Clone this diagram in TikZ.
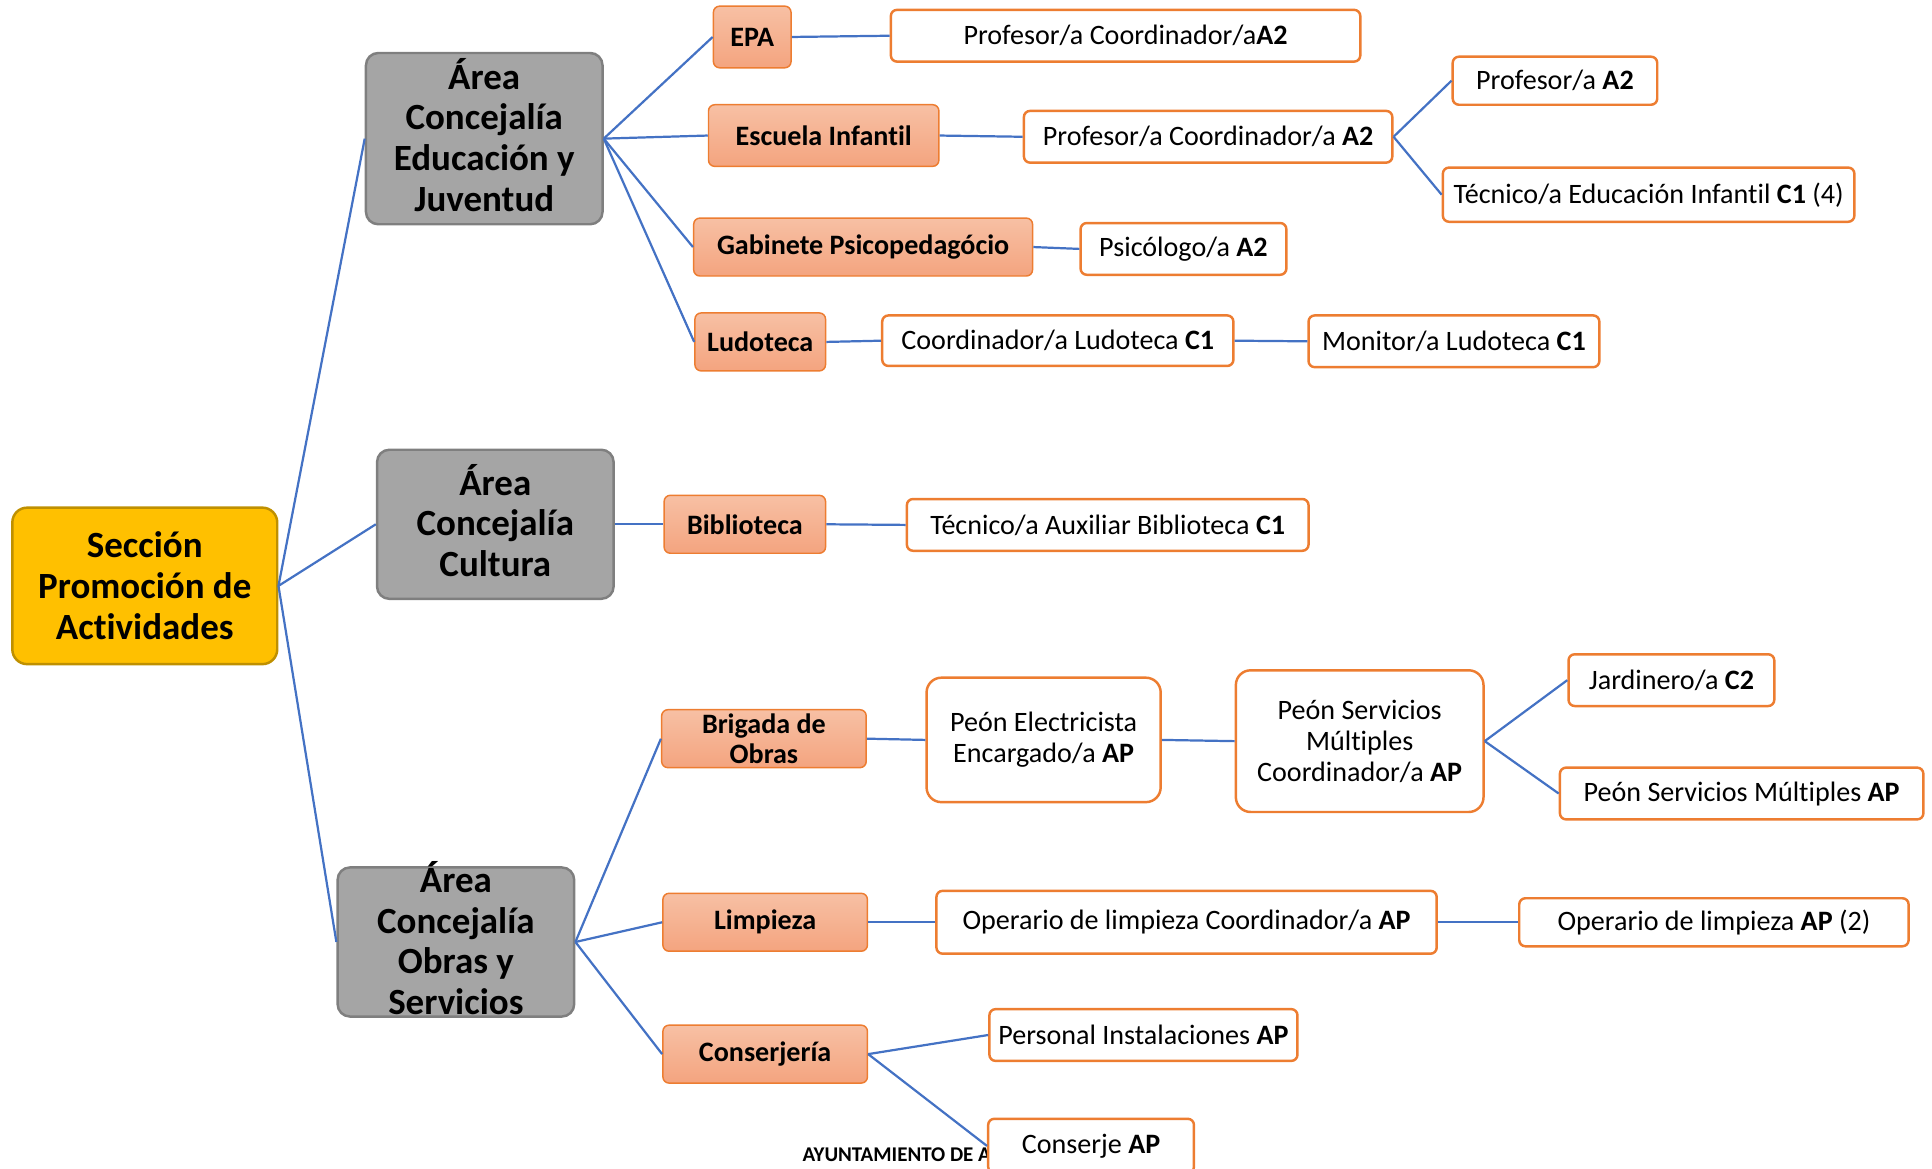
\documentclass[tikz,border=0pt]{standalone}
\usepackage{fontspec}
\setmainfont{Carlito}[Ligatures=CommonOff]
\definecolor{connc}{HTML}{4472C4}
\definecolor{orng}{HTML}{ED7D31}
\definecolor{otop}{HTML}{F7C0A4}
\definecolor{obot}{HTML}{F4A47F}
\definecolor{gfill}{HTML}{A5A5A5}
\definecolor{gline}{HTML}{7F7F7F}
\definecolor{goldf}{HTML}{FFC000}
\definecolor{goldl}{HTML}{BF9000}
\begin{document}
\begin{tikzpicture}[x=0.5pt,y=-0.5pt,
  rootbox/.style={draw=goldl, line width=1pt, fill=goldf, rounded corners=6pt, inner sep=0pt, align=center, font=\fontsize{15}{16.7}\selectfont\bfseries},
  areabox/.style={draw=gline, line width=1pt, fill=gfill, rounded corners=5pt, inner sep=0pt},
  bigtxt/.style={align=center, inner sep=0pt, yshift=1.6pt, font=\fontsize{15}{16.5}\selectfont\bfseries},
  unitbox/.style={draw=orng, line width=0.6pt, rounded corners=2.5pt, top color=otop, bottom color=obot, inner sep=0pt, align=center, font=\fontsize{11.4}{12.5}\selectfont\bfseries},
  unittxt/.style={align=center, inner sep=0pt, font=\fontsize{11.4}{12.5}\selectfont\bfseries},
  postbox/.style={draw=orng, line width=1pt, rounded corners=2.5pt, fill=white, inner sep=0pt, align=center, font=\fontsize{11.4}{12.5}\selectfont},
  tallbox/.style={postbox, rounded corners=6pt},
  cn/.style={draw=connc, line width=0.9pt}
]
\useasboundingbox (0,0) rectangle (1568,948);

% root
\node[rootbox, minimum width=107.5pt, minimum height=63.5pt] (root) at (117.5,475.5) {Sección\\Promoción de\\Actividades};

% areas
\node[areabox, minimum width=96pt, minimum height=69.5pt, label={[bigtxt,name=edutxt]center:Área\\Concejalía\\Educación y\\Juventud}] (edu) at (393,112.5) {};
\node[areabox, minimum width=96pt, minimum height=60.5pt, label={[bigtxt,name=cultxt]center:Área\\Concejalía\\Cultura}] (cul) at (402,425.5) {};
\node[areabox, minimum width=96pt, minimum height=60.5pt, label={[bigtxt,name=obrtxt]center:Área\\Concejalía\\Obras y\\Servicios}] (obr) at (370,764.5) {};

% units
\node[unitbox, minimum width=31.5pt, minimum height=25pt] (epa) at (610.5,30) {EPA};
\node[unitbox, minimum width=93.5pt, minimum height=25pt] (esc) at (668.5,110) {Escuela Infantil};
\node[unitbox, minimum width=137.5pt, minimum height=23.5pt] (gab) at (700.5,200.5) {Gabinete Psicopedagócio};
\node[unitbox, minimum width=53pt, minimum height=23.5pt] (lud) at (617,277.5) {Ludoteca};
\node[unitbox, minimum width=65.5pt, minimum height=23.5pt] (bib) at (604.5,425.5) {Biblioteca};
\node[unitbox, minimum width=83pt, minimum height=23.5pt, label={[unittxt,name=britxt]center:Brigada de\\Obras}] (bri) at (620,599.5) {};
\node[unitbox, minimum width=83pt, minimum height=23.5pt] (lim) at (621,748.5) {Limpieza};
\node[unitbox, minimum width=83pt, minimum height=23.5pt] (con) at (621,855.5) {Conserjería};

% posts
\node[postbox, minimum width=190.5pt, minimum height=21pt] (epaC) at (913.5,29) {Profesor/a Coordinador/a\textbf{A2}};
\node[postbox, minimum width=149.5pt, minimum height=21pt] (escC) at (980.5,111) {Profesor/a Coordinador/a \textbf{A2}};
\node[postbox, minimum width=83pt, minimum height=19.5pt] (prof) at (1262,65.5) {Profesor/a \textbf{A2}};
\node[postbox, minimum width=167pt, minimum height=22pt] (tec) at (1338,158) {Técnico/a Educación Infantil \textbf{C1} (4)};
\node[postbox, minimum width=83.5pt, minimum height=21pt] (psi) at (960.5,202) {Psicólogo/a \textbf{A2}};
\node[postbox, minimum width=142.5pt, minimum height=20.5pt] (coo) at (858.5,276.5) {Coordinador/a Ludoteca \textbf{C1}};
\node[postbox, minimum width=118pt, minimum height=21pt] (mon) at (1180,277) {Monitor/a Ludoteca \textbf{C1}};
\node[postbox, minimum width=163pt, minimum height=21pt] (bibC) at (899,426) {Técnico/a Auxiliar Biblioteca \textbf{C1}};
\node[tallbox, minimum width=95pt, minimum height=50.5pt] (pel) at (847,600.5) {Peón Electricista\\Encargado/a \textbf{AP}};
\node[tallbox, minimum width=100.5pt, minimum height=57.5pt] (psm) at (1103.5,601.5) {Peón Servicios\\Múltiples\\Coordinador/a \textbf{AP}};
\node[postbox, minimum width=83.5pt, minimum height=21pt] (jar) at (1356.5,552) {Jardinero/a \textbf{C2}};
\node[postbox, minimum width=147.5pt, minimum height=21pt] (psa) at (1413.5,644) {Peón Servicios Múltiples \textbf{AP}};
\node[postbox, minimum width=203pt, minimum height=25.5pt] (ope) at (963,748.5) {Operario de limpieza Coordinador/a \textbf{AP}};
\node[postbox, minimum width=158pt, minimum height=19.5pt] (opa) at (1391,748.5) {Operario de limpieza \textbf{AP} (2)};
\node[postbox, minimum width=125pt, minimum height=21pt] (per) at (928,840) {Personal Instalaciones \textbf{AP}};

% footer text (partly hidden)
\node[anchor=west, inner sep=0pt, font=\fontsize{8.5}{10}\selectfont\bfseries] (ayto) at (651,937) {AYUNTAMIENTO DE A};
\node[postbox, minimum width=83.5pt, minimum height=22pt] (cnj) at (885.5,930) {Conserje \textbf{AP}};

% connectors
\draw[cn] (root.east) -- (edu.west);
\draw[cn] (root.east) -- (cul.west);
\draw[cn] (root.east) -- (obr.west);
\draw[cn] (edu.east) -- (epa.west);
\draw[cn] (edu.east) -- (esc.west);
\draw[cn] (edu.east) -- (gab.west);
\draw[cn] (edu.east) -- (lud.west);
\draw[cn] (epa.east) -- (epaC.west);
\draw[cn] (esc.east) -- (escC.west);
\draw[cn] (escC.east) -- (prof.west);
\draw[cn] (escC.east) -- (tec.west);
\draw[cn] (gab.east) -- (psi.west);
\draw[cn] (lud.east) -- (coo.west);
\draw[cn] (coo.east) -- (mon.west);
\draw[cn] (cul.east) -- (bib.west);
\draw[cn] (bib.east) -- (bibC.west);
\draw[cn] (obr.east) -- (bri.west);
\draw[cn] (obr.east) -- (lim.west);
\draw[cn] (obr.east) -- (con.west);
\draw[cn] (bri.east) -- (pel.west);
\draw[cn] (pel.east) -- (psm.west);
\draw[cn] (psm.east) -- (jar.west);
\draw[cn] (psm.east) -- (psa.west);
\draw[cn] (lim.east) -- (ope.west);
\draw[cn] (ope.east) -- (opa.west);
\draw[cn] (con.east) -- (per.west);
\draw[cn] (con.east) -- (cnj.west);
\end{tikzpicture}
\end{document}
